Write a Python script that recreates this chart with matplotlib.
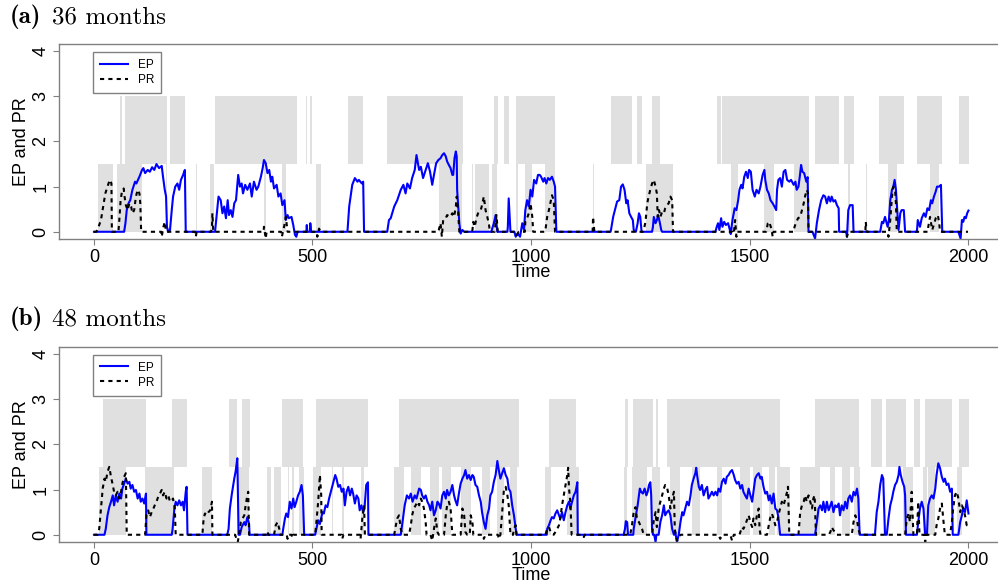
import matplotlib
matplotlib.use("Agg")
import matplotlib.pyplot as plt
from matplotlib.lines import Line2D

plt.rcParams['font.family'] = ['Liberation Sans', 'DejaVu Sans']

# (time, value) knots, panel (a) 36 months
ep_a = [
    (0, 0), (69, 0), (72, .19), (75, .48), (79, .63), (83, .70), (88, .93), (94, 1.11), (97, 1.07), (104, 1.22),
    (110, 1.37), (113, 1.41), (117, 1.30), (123, 1.37), (128, 1.33), (133, 1.43), (138, 1.37), (143, 1.50),
    (149, 1.41), (155, 1.46), (158, 1.22), (162, .93), (165, .78), (167, .11), (170, 0), (174, .04), (178, .48),
    (181, .78), (186, 1.0), (191, 1.07), (195, .93), (199, 1.15), (204, 1.26), (208, 1.37), (210, 0),
    (277, 0), (279, .19), (285, .78), (290, .70), (294, .41), (298, .56), (302, .30), (306, .70), (309, .37),
    (313, .48), (317, .33), (321, .63), (325, .70), (330, 1.26), (334, 1.0), (338, 1.07), (341, .85), (346, 1.04),
    (351, .93), (357, 1.07), (361, .78), (366, 1.11), (372, .93), (376, 1.0), (382, 1.22), (386, 1.41), (389, 1.59),
    (393, 1.52), (397, 1.30), (401, 1.37), (405, 1.11), (408, 1.22), (412, .96), (418, 1.04), (422, .78), (427, .85),
    (431, .59), (436, .70), (439, .26), (443, .37), (446, .30), (452, .33), (456, .15), (460, -.07), (463, -.11),
    (466, 0), (486, 0), (487, .15), (488, 0), (494, 0), (495, .19), (497, 0),
    (580, 0), (584, .56), (591, 1.04), (597, 1.19), (603, 1.11), (606, 1.15), (613, 1.07), (616, 1.11), (618, 0),
    (671, 0), (675, .26), (679, .30), (687, .56), (694, .70), (702, .93), (708, 1.04), (713, .85), (717, 1.07),
    (723, .96), (728, 1.19), (734, 1.37), (738, 1.70), (744, 1.37), (748, 1.44), (753, 1.19), (759, 1.37),
    (764, 1.52), (769, 1.33), (774, 1.04), (778, 1.26), (783, 1.52), (788, 1.59), (793, 1.63), (797, 1.70),
    (801, 1.74), (805, 1.67), (808, 1.56), (812, 1.48), (816, 1.41), (820, 1.26), (822, 1.26), (825, 1.63),
    (828, 1.78), (830, 1.67), (831, .93), (834, .48), (836, .19), (839, -.04), (843, .04), (847, 0),
    (909, 0), (915, .19), (919, .37), (923, 0), (946, 0), (947, .11), (949, .74), (953, 0), (962, 0), (965, -.11),
    (970, -.04), (975, -.11), (980, .19), (984, .04), (987, .48), (991, .70), (995, .56), (999, .93), (1003, .78),
    (1007, 1.15), (1012, 1.07), (1016, 1.26), (1020, 1.26), (1023, 1.22), (1028, 1.11), (1031, 1.19), (1035, 1.07),
    (1039, 1.19), (1043, 1.15), (1048, 1.22), (1052, 1.11), (1055, 1.0), (1058, 0),
    (1182, 0), (1183, .04), (1188, .33), (1192, .48), (1197, .67), (1202, .70), (1206, 1.0), (1210, 1.05),
    (1214, .93), (1218, .63), (1221, .70), (1225, .41), (1229, .33), (1233, .26), (1235, .04), (1240, 0),
    (1244, .19), (1247, .41), (1250, .33), (1253, 0),
    (1277, 0), (1279, .11), (1281, .33), (1285, .19), (1288, .26), (1291, .37), (1295, .19), (1298, .04), (1300, 0),
    (1422, 0), (1425, .11), (1428, .19), (1431, .04), (1435, .30), (1438, .11), (1442, .22), (1446, .15),
    (1451, .19), (1455, .04), (1457, -.05), (1461, .26), (1466, .52), (1470, .48), (1474, .70), (1477, .93),
    (1481, 1.04), (1484, .96), (1488, 1.22), (1492, 1.33), (1496, 1.19), (1499, 1.37), (1503, 1.33), (1507, .93),
    (1512, .78), (1516, .93), (1521, .85), (1525, 1.0), (1530, 1.26), (1534, 1.37), (1536, 1.15), (1540, .93),
    (1544, .85), (1548, .70), (1553, .63), (1557, .56), (1561, .48), (1563, .93), (1566, 1.15), (1570, 1.19),
    (1574, 1.0), (1578, 1.33), (1582, 1.37), (1586, 1.15), (1591, 1.11), (1595, 1.15), (1601, 1.04), (1605, 1.11),
    (1608, .93), (1612, 1.0), (1615, 1.22), (1618, 1.48), (1621, 1.33), (1625, 1.30), (1630, 1.11), (1633, 1.21),
    (1635, 0), (1644, 0), (1650, -.15), (1654, .19), (1659, .48), (1664, .70), (1669, .81), (1673, .78),
    (1677, .63), (1681, .78), (1685, .67), (1688, .78), (1692, .67), (1696, .70), (1700, .59), (1704, .52),
    (1705, 0), (1721, 0), (1723, -.11), (1726, .48), (1730, .59), (1736, .59), (1738, 0),
    (1799, 0), (1803, .22), (1806, .19), (1810, .33), (1816, .11), (1819, .26), (1822, .70), (1826, .93),
    (1829, 1.0), (1832, 1.15), (1835, .93), (1837, .63), (1841, .04), (1845, .41), (1848, .48), (1853, .48),
    (1856, 0), (1883, 0), (1885, .26), (1890, .11), (1894, .30), (1899, .41), (1903, .33), (1907, .52),
    (1911, .48), (1915, .70), (1918, .63), (1922, .78), (1926, .89), (1929, 1.0), (1934, 1.0), (1938, 1.04),
    (1941, 0), (1978, 0), (1983, -.15), (1986, .26), (1989, .22), (1992, .33), (1995, .30), (1998, .41), (2001, .47),
]

pr_a = [
    (0, 0), (5, 0), (8, .04), (16, .26), (21, .56), (26, .85), (31, 1.0), (36, 1.15), (40, 1.07), (41, 0),
    (56, 0), (58, .26), (61, .70), (64, .89), (68, .96), (70, .78), (73, .59), (77, .48), (81, .63), (85, .56),
    (88, .41), (92, .48), (96, .78), (100, .93), (104, .85), (106, .63), (108, 0),
    (154, 0), (155, -.11), (159, .11), (162, .22), (165, 0), (231, 0), (233, -.11), (235, 0),
    (268, 0), (270, .11), (271, .41), (273, 0), (388, 0), (389, .11), (393, -.15), (395, 0),
    (428, 0), (430, -.11), (435, .11), (439, .33), (443, 0), (510, 0), (511, -.11), (515, .07), (519, 0),
    (788, 0), (789, .04), (793, .19), (796, -.11), (799, .26), (805, .30), (808, .37), (815, .33), (820, .41),
    (824, .33), (828, .56), (830, .78), (833, .48), (836, 0),
    (864, 0), (866, .04), (868, .22), (871, .11), (876, .33), (880, .44), (885, .48), (888, .59), (892, .78),
    (896, .48), (900, .33), (904, .15), (906, 0), (917, 0), (919, .19), (921, .37), (924, 0),
    (965, 0), (967, -.07), (972, 0), (986, 0), (987, .22), (991, .30), (995, .41), (999, .63), (1003, .33), (1005, 0),
    (1032, 0), (1033, .04), (1037, .33), (1041, .48), (1045, .67), (1048, .81), (1052, .70), (1055, 0),
    (1141, 0), (1142, .33), (1145, 0),
    (1256, 0), (1258, .04), (1262, .22), (1266, .63), (1269, .78), (1273, .93), (1277, 1.07), (1281, 1.15),
    (1285, 1.0), (1288, .85), (1290, .33), (1293, .48), (1296, .33), (1300, .44), (1304, .41), (1307, .52),
    (1311, .59), (1315, .63), (1319, .78), (1323, .70), (1325, 0),
    (1462, 0), (1464, -.04), (1467, .26), (1470, -.11), (1472, 0),
    (1538, 0), (1542, .19), (1545, .22), (1550, .07), (1553, -.11), (1555, 0),
    (1601, 0), (1603, .11), (1606, .19), (1611, .30), (1616, .33), (1620, .48), (1624, .63), (1627, .78),
    (1631, .93), (1634, .85), (1635, 0), (1721, 0), (1723, -.11), (1726, 0), (1765, 0), (1766, .22), (1768, 0),
    (1816, 0), (1818, -.11), (1822, .26), (1826, .78), (1829, 1.0), (1833, .93), (1835, .63), (1837, 0),
    (1908, 0), (1909, .11), (1913, .33), (1918, .04), (1923, .19), (1926, .30), (1931, .37), (1934, .19),
    (1936, 0), (2000, 0),
]

upper_a = [(60, 64), (71, 168), (174, 208), (277, 464), (485, 488), (494, 498), (581, 616), (671, 845),
           (915, 924), (938, 950), (965, 1055), (1183, 1231), (1243, 1255), (1276, 1296), (1426, 1434),
           (1437, 1635), (1650, 1705), (1717, 1739), (1797, 1854), (1883, 1940), (1979, 2002)]
lower_a = [(9, 44), (53, 109), (165, 168), (233, 236), (266, 274), (389, 393), (430, 440), (509, 520),
           (789, 843), (864, 867), (873, 905), (910, 923), (965, 971), (986, 1003), (1033, 1055), (1141, 1144),
           (1262, 1325), (1458, 1474), (1532, 1557), (1602, 1635), (1726, 1730), (1766, 1769), (1816, 1838),
           (1912, 1934)]

# panel (b) 48 months
ep_b = [
    (0, 0), (24, 0), (27, .13), (31, .43), (35, .61), (39, .73), (43, .87), (46, .65), (50, .87), (54, .73),
    (58, .91), (62, .80), (65, 1.02), (69, 1.13), (73, 1.24), (77, 1.13), (81, 1.17), (84, 1.02), (88, 1.10),
    (92, .95), (96, .99), (100, .80), (104, .91), (107, .73), (111, .80), (115, .69), (119, .91), (120, 0),
    (178, 0), (180, .13), (184, .58), (187, .73), (191, .65), (195, .76), (199, .65), (203, .73), (206, .54),
    (210, .95), (212, 1.06), (214, 0),
    (305, 0), (308, .13), (311, .58), (315, .87), (321, 1.24), (324, 1.39), (328, 1.69), (330, .65), (331, 0),
    (334, 0), (338, .17), (344, .28), (347, .21), (351, .39), (355, .24), (356, 0),
    (431, 0), (433, .13), (437, .36), (440, .47), (444, .39), (448, .73), (452, .58), (456, .80), (459, .61),
    (463, .73), (467, .87), (471, .95), (475, 1.10), (478, .87), (481, 0),
    (506, 0), (509, .13), (513, .32), (517, .24), (523, .50), (526, .47), (530, .65), (534, .61), (538, .80),
    (542, .95), (547, 1.13), (552, 1.32), (555, 1.24), (559, 1.06), (563, 1.10), (567, .95), (571, 1.02),
    (574, .65), (578, .95), (582, 1.06), (586, .87), (590, 1.02), (593, .91), (597, .69), (601, .87), (605, .80),
    (608, .54), (612, .65), (616, .50), (619, .58), (623, 1.10), (627, 1.16), (628, 0),
    (702, 0), (706, .28), (711, .65), (716, .87), (721, .80), (725, .91), (729, .73), (734, .87), (738, .80),
    (744, 1.02), (748, .99), (751, .87), (755, .80), (759, .87), (763, .73), (767, .65), (770, .54), (774, .73),
    (778, .43), (782, .54), (786, .73), (789, .69), (793, .58), (797, .87), (801, .95), (805, .80), (808, .99),
    (812, .87), (816, .95), (820, 1.10), (824, .87), (827, .76), (831, .65), (835, .91), (839, 1.13), (843, 1.24),
    (847, 1.32), (850, 1.43), (854, 1.24), (858, 1.32), (862, 1.21), (866, 1.32), (869, 1.28), (873, 1.10),
    (877, 1.06), (881, .87), (885, .73), (888, .50), (892, .28), (896, .13), (900, .43), (904, .58), (907, .87),
    (911, .95), (915, 1.17), (919, 1.32), (923, 1.63), (927, 1.39), (930, 1.24), (934, 1.36), (938, 1.47),
    (942, 1.32), (946, 1.24), (949, 1.02), (953, .95), (957, .65), (961, .43), (965, .13), (967, 0),
    (1036, 0), (1037, .13), (1041, .21), (1045, .32), (1048, .39), (1052, .36), (1056, .47), (1060, .54),
    (1064, .43), (1067, .36), (1071, .50), (1075, .32), (1079, .50), (1083, .65), (1087, .73), (1090, .58),
    (1094, .73), (1098, .87), (1102, .95), (1106, 1.16), (1107, 0),
    (1212, 0), (1215, .13), (1217, .30), (1220, .28), (1222, 0),
    (1234, 0), (1235, .13), (1240, .43), (1244, .65), (1249, 1.02), (1252, .95), (1256, .91), (1260, 1.02),
    (1264, .87), (1267, .95), (1270, 1.10), (1273, 1.16), (1275, .87), (1277, .13), (1279, 0), (1282, 0),
    (1285, -.16), (1287, 0), (1292, 0), (1296, .28), (1300, .43), (1304, .65), (1307, .43), (1311, .50),
    (1315, .54), (1319, .43), (1323, .13), (1327, 0), (1330, .06), (1334, -.16), (1338, 0), (1342, .28),
    (1346, .50), (1349, .43), (1353, .58), (1357, .73), (1361, .65), (1365, .87), (1368, 1.10), (1372, 1.24),
    (1376, 1.36), (1378, 1.48), (1380, 1.32), (1384, 1.06), (1387, .99), (1391, 1.10), (1395, .87), (1399, .99),
    (1403, 1.06), (1406, .80), (1410, .87), (1414, .95), (1418, .87), (1422, .95), (1426, .87), (1429, 1.02),
    (1433, .95), (1437, 1.17), (1441, 1.24), (1445, 1.13), (1448, 1.28), (1452, 1.32), (1456, 1.39), (1460, 1.43),
    (1464, 1.32), (1467, 1.21), (1471, 1.13), (1475, 1.17), (1479, 1.02), (1483, 1.10), (1486, .95), (1490, .87),
    (1494, .80), (1498, 1.02), (1502, .87), (1506, .73), (1509, .95), (1513, 1.24), (1517, 1.32), (1521, 1.36),
    (1525, 1.24), (1528, 1.28), (1532, 1.06), (1536, .91), (1540, .95), (1544, .76), (1547, .87), (1551, .69),
    (1555, .91), (1559, .58), (1563, .54), (1566, .39), (1570, 0),
    (1650, 0), (1654, .28), (1658, .58), (1662, .65), (1666, .54), (1669, .73), (1673, .50), (1677, .73),
    (1681, .54), (1685, .65), (1688, .73), (1692, .50), (1696, .65), (1700, .61), (1704, .69), (1707, .43),
    (1711, .65), (1715, .54), (1719, .73), (1723, .58), (1726, .80), (1730, .87), (1734, .73), (1738, .95),
    (1742, .87), (1746, 1.02), (1749, .80), (1752, 0),
    (1787, 0), (1791, .50), (1795, .73), (1799, 1.10), (1803, 1.32), (1806, 1.24), (1810, 0), (1814, 0),
    (1818, .36), (1822, .65), (1826, .80), (1829, .95), (1833, 1.10), (1837, 1.17), (1841, 1.32), (1843, 1.50),
    (1846, 1.32), (1850, 1.17), (1854, 1.06), (1856, .87), (1858, 0),
    (1883, 0), (1886, .28), (1890, .58), (1894, .73), (1898, .58), (1902, 0), (1906, 0), (1909, .65), (1913, .80),
    (1917, .87), (1921, .80), (1925, 1.02), (1928, 1.32), (1932, 1.58), (1936, 1.47), (1940, 1.28), (1944, 1.17),
    (1947, 1.24), (1951, 1.10), (1955, 1.13), (1959, .95), (1963, 1.02), (1965, 0),
    (1978, 0), (1982, .28), (1986, .43), (1989, .58), (1993, .50), (1997, .76), (2001, .47),
]

pr_b = [
    (0, 0), (8, 0), (12, .13), (16, .58), (20, 1.02), (24, 1.24), (27, 1.17), (31, 1.39), (35, 1.50), (39, 1.28),
    (43, 1.10), (46, .95), (50, .87), (54, .95), (58, .80), (62, .95), (65, 1.13), (69, 1.28), (73, 1.36), (75, 0),
    (117, 0), (120, .43), (124, .54), (128, .39), (132, .50), (136, .58), (139, .65), (143, .73), (147, .84),
    (151, .91), (155, .99), (158, .87), (162, .95), (166, .80), (170, .87), (174, .73), (178, .76), (181, .80),
    (185, .58), (187, 0),
    (248, 0), (251, .36), (254, .47), (258, .43), (262, .50), (266, .54), (270, .73), (271, 0),
    (323, 0), (326, -.09), (329, -.16), (332, 0), (336, .28), (340, .36), (344, .43), (347, .65), (351, .87),
    (353, .95), (355, 0), (395, 0), (397, .07), (399, 0), (412, 0), (416, .21), (420, .28), (424, .13), (426, 0),
    (441, 0), (443, -.09), (445, 0), (452, 0), (454, -.07), (456, 0),
    (506, 0), (509, .28), (513, .73), (515, 1.02), (517, 1.32), (520, .87), (521, 0),
    (567, 0), (568, -.09), (571, 0), (609, 0), (610, -.09), (614, .36), (618, .65), (620, 0),
    (687, 0), (690, .17), (694, .36), (698, .43), (702, .13), (706, 0),
    (721, 0), (725, .21), (728, .43), (732, .58), (736, .65), (740, .73), (744, .65), (748, .80), (751, .73),
    (755, .58), (759, .28), (761, 0), (770, 0), (774, -.13), (778, .13), (782, .36), (786, .06), (789, 0),
    (801, 0), (805, .43), (808, .65), (812, .73), (816, .58), (820, 0),
    (839, 0), (843, .58), (847, .43), (850, .06), (854, 0), (860, 0), (862, .43), (866, .28), (868, 0),
    (891, 0), (892, -.09), (896, 0), (924, 0), (927, -.09), (930, 0), (934, .50), (938, .99), (942, 1.06),
    (946, .87), (949, .65), (953, 0), (959, 0), (961, .13), (965, .21), (967, 0),
    (1033, 0), (1037, .13), (1041, .17), (1045, .06), (1052, 0), (1060, .13), (1064, .21), (1067, .36),
    (1071, .65), (1075, .87), (1079, 1.10), (1083, 1.32), (1085, 1.48), (1087, 1.02), (1090, .73), (1093, 0),
    (1119, 0), (1121, -.05), (1123, 0),
    (1227, 0), (1231, .21), (1235, .50), (1239, .61), (1243, .32), (1247, .28), (1250, .21), (1254, .13), (1258, 0),
    (1277, 0), (1281, .32), (1285, .50), (1288, .17), (1292, .58), (1296, .73), (1300, .87), (1304, 1.02),
    (1307, 1.10), (1311, 1.06), (1315, .87), (1319, .58), (1323, .80), (1327, .95), (1329, .13), (1331, 0),
    (1334, -.13), (1342, 0), (1429, 0), (1433, -.09), (1437, 0), (1456, 0), (1460, -.13), (1464, 0),
    (1477, 0), (1479, .06), (1483, .17), (1486, .13), (1490, .21), (1494, .32), (1498, .43), (1502, .28),
    (1506, .17), (1509, .36), (1513, .21), (1517, .43), (1521, .58), (1523, .13), (1525, 0),
    (1540, 0), (1544, .21), (1547, .36), (1551, .47), (1555, .36), (1559, .21), (1563, .28), (1566, .43),
    (1570, .58), (1574, .73), (1578, .65), (1582, .80), (1586, .95), (1588, 1.06), (1591, 0),
    (1612, 0), (1616, .50), (1620, .65), (1624, .73), (1627, .87), (1631, .73), (1635, .87), (1639, .73),
    (1643, .58), (1646, .80), (1649, .87), (1652, 0),
    (1681, 0), (1685, .06), (1688, .17), (1692, .10), (1696, .06), (1700, 0),
    (1734, 0), (1738, .28), (1742, .43), (1746, .32), (1749, .13), (1753, 0),
    (1856, 0), (1860, .36), (1864, .47), (1867, .28), (1871, .95), (1875, 0), (1883, 0), (1886, .73), (1889, 0),
    (1900, 0), (1902, -.16), (1904, 0),
    (1925, 0), (1928, .21), (1932, .36), (1936, .58), (1940, .69), (1944, .28), (1947, 0),
    (1959, 0), (1963, .28), (1966, .58), (1970, .87), (1974, .95), (1978, .80), (1982, .50), (1986, .65),
    (1989, .58), (1993, .43), (1997, .21), (2001, .28),
]

upper_b = [(21, 119), (179, 212), (308, 327), (338, 356), (430, 478), (509, 626), (698, 972), (1041, 1104),
           (1214, 1222), (1233, 1279), (1286, 1291), (1312, 1570), (1650, 1751), (1778, 1804), (1812, 1857),
           (1877, 1889), (1902, 1964), (1980, 2002)]
lower_b = [(11, 73), (117, 184), (248, 270), (328, 355), (395, 405), (411, 427), (443, 446), (454, 458),
           (469, 481), (502, 519), (544, 546), (568, 572), (610, 618), (686, 709), (725, 748), (770, 789),
           (797, 816), (839, 862), (888, 907), (923, 938), (953, 968), (1033, 1045), (1083, 1110), (1212, 1220),
           (1231, 1266), (1277, 1296), (1319, 1342), (1369, 1387), (1425, 1437), (1479, 1502), (1509, 1528),
           (1544, 1559), (1563, 1593), (1616, 1662), (1685, 1696), (1711, 1730), (1738, 1753), (1852, 1875),
           (1898, 1906), (1909, 1925), (1974, 1986)]

xticks = [0, 500, 1000, 1500, 2000]
yticks = [0, 1, 2, 3, 4]

GREY = '#808080'
BAND = '#e0e0e0'


def draw_panel(ax, ep, pr, upper, lower, tag, months, title_y):
    # shaded regimes
    ax.broken_barh([(a, b - a) for a, b in upper], (1.5, 1.5), facecolors=BAND, edgecolor='none')
    ax.broken_barh([(a, b - a) for a, b in lower], (0, 1.5), facecolors=BAND, edgecolor='none')

    t, v = zip(*ep)
    ax.plot(t, v, color='#0000ff', lw=1.5, label='EP')
    t, v = zip(*pr)
    ax.plot(t, v, color='black', lw=1.5, ls=(0, (2, 2)), label='PR')

    ax.set_xlim(-80, 2080)
    ax.set_ylim(-0.16, 4.16)
    ax.set_xticks(xticks)
    ax.set_yticks(yticks)
    ax.set_yticklabels([str(y) for y in yticks], rotation=90, va='center')
    ax.tick_params(direction='out', length=4, width=0.8, color=GREY, labelsize=13, pad=3)
    for s in ax.spines.values():
        s.set_color(GREY)
        s.set_linewidth(1.0)

    ax.set_xlabel('Time', fontsize=13)
    ax.xaxis.label.set_va('center')
    ax.xaxis.set_label_coords(0.5, -0.172)
    ax.set_ylabel('EP and PR', fontsize=13)
    ax.yaxis.label.set_va('center')
    ax.yaxis.set_label_coords(-0.040, 0.5)

    handles = [Line2D([], [], color='#0000ff', lw=1.5),
               Line2D([], [], color='black', lw=1.5, ls=(0, (2, 2)))]
    ax.legend(handles, ['EP', 'PR'], loc='upper left', bbox_to_anchor=(0.036, 0.959), fontsize=8.5,
              fancybox=False, edgecolor=GREY, framealpha=1, borderaxespad=0, handlelength=2.4,
              borderpad=0.6, labelspacing=0.25, handletextpad=0.8)

    # panel heading: bold tag, roman text
    fig.text(10 / 998, title_y, '(' + tag + ')', fontfamily='cmb10', fontsize=18, ha='left', va='center')
    fig.text(52 / 998, title_y, months + ' months', fontfamily='cmr10', fontsize=18, ha='left', va='center')


fig = plt.figure(figsize=(9.98, 5.83), dpi=100)
ax_a = fig.add_axes([59 / 998, 1 - 239 / 583, 944 / 998, 195 / 583])
ax_b = fig.add_axes([59 / 998, 1 - 542 / 583, 944 / 998, 195.5 / 583])

draw_panel(ax_a, ep_a, pr_a, upper_a, lower_a, 'a', '36', 1 - 17 / 583)
draw_panel(ax_b, ep_b, pr_b, upper_b, lower_b, 'b', '48', 1 - 319 / 583)

fig.savefig('out.png', dpi=100)
